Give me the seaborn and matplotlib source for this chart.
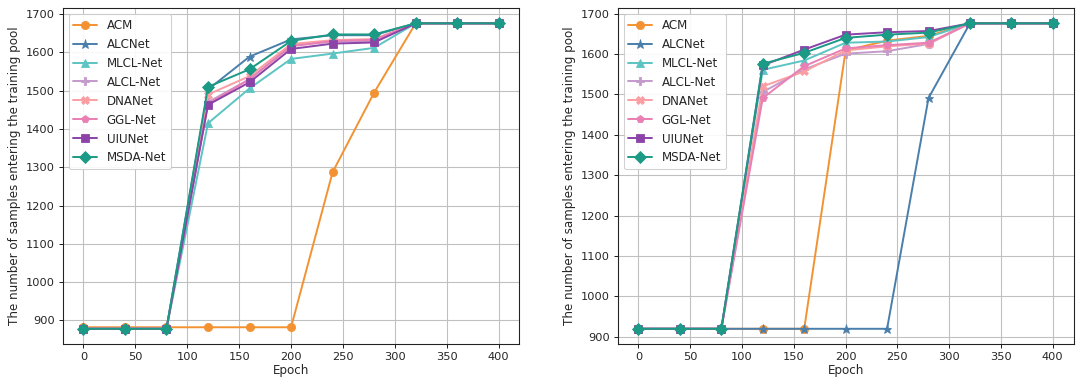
import matplotlib
matplotlib.use("Agg")
import matplotlib.pyplot as plt
import seaborn as sns
import numpy as np

epochs = [0, 40, 80, 120, 160, 200, 240, 280, 320, 360, 400]
methods = ["ACM", "ALCNet", "MLCL-Net", "ALCL-Net", "DNANet", "GGL-Net", "UIUNet", "MSDA-Net"]

# Left panel
left_acm    = [882, 882, 882, 882, 882, 882, 1287, 1495, 1676, 1676, 1676]
left_alcnet = [878, 878, 878, 1503, 1589, 1634, 1645, 1645, 1676, 1676, 1676]
left_mlcl   = [878, 878, 878, 1415, 1506, 1583, 1597, 1612, 1676, 1676, 1676]
left_alcl   = [878, 878, 878, 1470, 1530, 1618, 1628, 1630, 1676, 1676, 1676]
left_dna    = [878, 878, 878, 1490, 1538, 1622, 1632, 1635, 1676, 1676, 1676]
left_ggl    = [878, 878, 878, 1465, 1530, 1616, 1630, 1633, 1676, 1676, 1676]
left_uiu    = [878, 878, 878, 1463, 1522, 1609, 1623, 1626, 1676, 1676, 1676]
left_msda   = [878, 878, 878, 1510, 1556, 1630, 1647, 1647, 1676, 1676, 1676]

# Right panel
right_acm    = [920, 920, 920, 920, 920, 1609, 1633, 1645, 1676, 1676, 1676]
right_alcnet = [920, 920, 920, 920, 920, 920, 920, 1491, 1676, 1676, 1676]
right_mlcl   = [920, 920, 920, 1561, 1584, 1628, 1631, 1642, 1676, 1676, 1676]
right_alcl   = [920, 920, 920, 1506, 1562, 1601, 1607, 1625, 1676, 1676, 1676]
right_dna    = [920, 920, 920, 1520, 1557, 1609, 1619, 1626, 1676, 1676, 1676]
right_ggl    = [920, 920, 920, 1491, 1570, 1614, 1622, 1628, 1676, 1676, 1676]
right_uiu    = [920, 920, 920, 1572, 1611, 1648, 1654, 1657, 1676, 1676, 1676]
right_msda   = [920, 920, 920, 1576, 1603, 1640, 1648, 1653, 1676, 1676, 1676]

left_series = [left_acm, left_alcnet, left_mlcl, left_alcl, left_dna, left_ggl, left_uiu, left_msda]
right_series = [right_acm, right_alcnet, right_mlcl, right_alcl, right_dna, right_ggl, right_uiu, right_msda]

colors = ["#f39232", "#4a7fab", "#5cc4c2", "#c499cc", "#fb9ea3", "#ea7fb4", "#8b43a8", "#1b9a85"]
markers = ["o", "*", "^", "P", "X", "p", "s", "D"]
msizes = [7.5, 8.5, 7.5, 7.5, 7.5, 7.5, 7.5, 7.5]

sns.set_style("ticks")
plt.rcParams["font.family"] = ["DejaVu Sans"]

DPI = 78
fig = plt.figure(figsize=(1080 / DPI, 384 / DPI), dpi=DPI)
ax1 = fig.add_axes([0.058, 0.104, 0.423, 0.875])
ax2 = fig.add_axes([0.572, 0.104, 0.422, 0.875])

for ax, series in [(ax1, left_series), (ax2, right_series)]:
    for name, vals, c, m, ms in zip(methods, series, colors, markers, msizes):
        sns.lineplot(x=epochs, y=vals, ax=ax, color=c, marker=m, markersize=ms,
                     markeredgecolor=c, linewidth=1.8, label=name)
    ax.grid(True, color="#c0c0c0", linewidth=1.0)
    ax.set_axisbelow(True)
    ax.set_xticks([0, 50, 100, 150, 200, 250, 300, 350, 400])
    ax.set_xlabel("Epoch", fontsize=11, labelpad=2)
    ax.set_ylabel("The number of samples entering the training pool", fontsize=11)
    ax.tick_params(labelsize=10.5, direction="out", length=4, color="black")
    for s in ax.spines.values():
        s.set_color("#222222")
        s.set_linewidth(1.0)
    ax.set_xlim(-20, 420)
    ax.legend(loc="upper left", fontsize=11, frameon=True, framealpha=0.9,
              edgecolor="#cccccc", handlelength=2.0)

ax1.set_yticks(np.arange(900, 1701, 100))
ax2.set_yticks(np.arange(900, 1701, 100))

fig.savefig("out.png", dpi=DPI)
